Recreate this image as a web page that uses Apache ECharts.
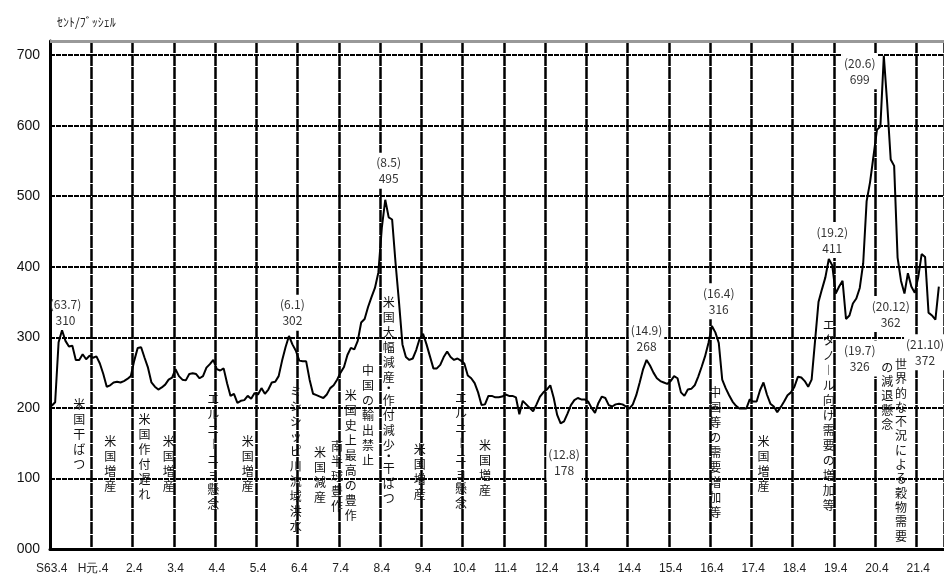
<!DOCTYPE html>
<html><head><meta charset="utf-8">
<script src="https://cdn.jsdelivr.net/npm/echarts@6/dist/echarts.min.js"></script>
<style>html,body{margin:0;padding:0;background:#fff}#c{width:944px;height:577px}</style>
</head><body><div id="c"></div>
<script>
// Fiscal-year tick labels (each starts in April)
const yearLabels = ['S63','H元','2','3','4','5','6','7','8','9','10','11','12','13','14','15','16','17','18','19','20','21'];
// Monthly corn price, cents/bushel, S63.4 ... H21.10 (+1 empty month)
const pricesS63toH6 = [
  203,208,293,310,295,287,288,268,268,276,269,274,
  271,273,263,248,230,232,236,237,236,238,241,245,
  267,285,286,271,257,236,230,226,229,233,240,243,
  255,245,240,239,248,249,248,242,245,257,262,268,
  255,253,256,235,217,220,207,210,211,217,213,221,
  219,228,220,226,236,237,245,267,286,302,290,281,
  267,266,266,240,220,218,216,214,219,228,232,240
];
const pricesH7toH13 = [
  250,258,275,285,283,295,321,326,343,357,370,392,
  455,495,470,467,405,350,290,272,268,270,282,298,
  305,290,273,256,256,261,272,280,272,268,270,267,
  263,246,242,235,222,204,205,217,217,215,215,216,
  219,217,217,215,191,210,205,200,195,205,216,222,
  226,232,214,190,178,181,192,204,211,214,212,212,
  209,200,193,207,216,214,204,202,205,206,205,202
];
const pricesH14toH21 = [
  199,205,218,236,255,268,260,250,242,238,236,234,
  238,245,242,222,217,226,227,232,244,258,273,292,
  316,307,292,240,228,218,209,203,199,199,199,212,
  209,209,225,236,219,206,202,194,201,209,218,222,
  230,244,243,238,230,240,295,350,368,385,411,402,
  362,372,380,326,331,348,355,370,405,493,520,557,
  594,599,699,630,552,543,413,380,362,391,372,363,
  385,418,414,335,331,325,372,null
];
const prices = [...pricesS63toH6, ...pricesH7toH13, ...pricesH14toH21];

// month categories built from the fiscal year labels
const categories = [];
yearLabels.forEach((y, k) => {
  const next = yearLabels[k + 1] || String(+y + 1);
  [4,5,6,7,8,9,10,11,12].forEach(m => categories.push(y + '.' + m));
  [1,2,3].forEach(m => categories.push(next + '.' + m));
});
categories.length = prices.length;

// peak annotations: [month index, value position, line1, line2, white box]
const peakNotes = [
  [4, 335, '(63.7)', '310', false],
  [70, 335, '(6.1)', '302', true],
  [98, 536, '(8.5)', '495', true],
  [149, 123, '(12.8)', '178', true],
  [173, 299, '(14.9)', '268', true],
  [194, 351, '(16.4)', '316', true],
  [227, 438, '(19.2)', '411', true],
  [235, 270, '(19.7)', '326', true],
  [235, 677, '(20.6)', '699', true],
  [244, 333, '(20.12)', '362', true],
  [254, 279, '(21.10)', '372', true]
];
// event annotations (vertical text): [month index, value position, text, line height]
const eventNotes = [
  [8, 162, '米国干ばつ', 15],
  [17, 121, '米国増産', 15],
  [27, 130, '米国作付遅れ', 15],
  [34, 121, '米国増産', 15],
  [47, 138, 'エルニーニョ懸念', 15],
  [57, 121, '米国増産', 15],
  [71, 128, 'ミシシッピ川流域洪水', 15],
  [78, 105, '米国減産', 15],
  [83, 103, '南半球豊作', 15],
  [87, 132, '米国史上最高の豊作', 15],
  [92, 190, '中国の輸出禁止', 15],
  [98, 211, '米国大幅減産・作付減少・干ばつ', 15],
  [107, 109, '米国増産', 15],
  [119, 139, 'エルニーニョ懸念', 15],
  [126, 115, '米国増産', 15],
  [193, 137, '中国等の需要増加等', 15],
  [207, 121, '米国増産', 15],
  [226, 190, 'エタノール向け需要の増加等', 15],
  [247, 140, '世界的な不況による穀物需要', 14.3],
  [243, 217, 'の減退懸念', 14.3]
];

function vert(s) {
  return s.split('').map(c => c === '・' ? '{dot|・}' : (c === 'ー' ? '︱' : c)).join('\n');
}

const markData = [];
peakNotes.forEach(p => markData.push({
  coord: [p[0], p[1]],
  label: {
    show: true, position: 'inside', formatter: p[2] + '\n' + p[3],
    fontSize: 12, lineHeight: 16, color: '#333', fontFamily: 'Noto Sans CJK JP',
    backgroundColor: p[4] ? '#fff' : 'transparent', padding: [2, 2], align: 'center', verticalAlign: 'middle'
  }
}));
eventNotes.forEach(e => markData.push({
  coord: [e[0], e[1]],
  label: {
    show: true, position: 'inside', formatter: vert(e[2]),
    fontSize: 12, lineHeight: e[3], color: '#111', fontFamily: 'Noto Sans CJK JP',
    align: 'center', verticalAlign: 'middle',
    rich: { dot: { fontSize: 12, lineHeight: 8, color: '#111', fontFamily: 'Noto Sans CJK JP' } }
  }
}));

const chart = echarts.init(document.getElementById('c'), null, { renderer: 'canvas' });
const every12 = (i) => i % 12 === 0;
chart.setOption({
  animation: false,
  backgroundColor: '#fff',
  title: {
    text: 'ｾﾝﾄ/ﾌﾞｯｼｪﾙ', left: 52, top: 11,
    textStyle: { fontSize: 12, fontWeight: 'normal', color: '#222', fontFamily: 'Noto Sans CJK JP' }
  },
  grid: { left: 50, right: 0, top: 41, bottom: 28 },
  xAxis: {
    type: 'category', data: categories, boundaryGap: true,
    axisLine: { show: true, lineStyle: { color: '#000', width: 3 } },
    axisTick: { show: false },
    axisLabel: {
      interval: every12, margin: 14, fontSize: 12, color: '#222',
      fontFamily: 'Liberation Sans',
      formatter: (v) => v
    },
    splitLine: { show: true, interval: every12, lineStyle: { color: '#000', width: 2.5, type: [12, 1] } }
  },
  yAxis: {
    type: 'value', min: 0, max: 720, interval: 100,
    axisLine: { show: true, lineStyle: { color: '#000', width: 3 } },
    axisTick: { show: false },
    axisLabel: {
      margin: 10, fontSize: 14, color: '#111', fontFamily: 'Liberation Sans',
      formatter: (v) => v > 700 ? '' : String(v).padStart(3, '0')
    },
    splitLine: {
      show: true,
      lineStyle: {
        color: ['#000','#000','#000','#000','#000','#000','#000','#000','rgba(0,0,0,0)'],
        width: 2, type: [5, 1]
      }
    }
  },
  series: [{
    type: 'line', data: prices, showSymbol: false, symbol: 'none',
    lineStyle: { color: '#000', width: 2 },
    connectNulls: false,
    markLine: {
      silent: true, symbol: 'none', label: { show: false },
      lineStyle: { color: '#999', width: 3, type: 'solid' },
      data: [{ yAxis: 720 }]
    },
    markPoint: {
      silent: true, symbol: 'circle', symbolSize: 1,
      itemStyle: { color: 'rgba(0,0,0,0)' },
      data: markData
    }
  }]
});
</script>
</body></html>
